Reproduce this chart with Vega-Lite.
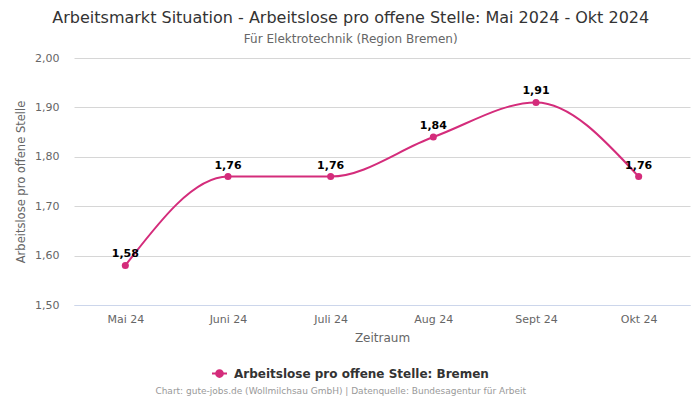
{
  "$schema": "https://vega.github.io/schema/vega-lite/v6.json",
  "padding": {"left": 15, "top": 10, "right": 10, "bottom": 0},
  "background": "#ffffff",
  "config": {
    "font": "DejaVu Sans",
    "locale": {"number": {"decimal": ",", "thousands": ".", "grouping": [3], "currency": ["", " €"]}},
    "view": {"stroke": null}
  },
  "title": {
    "text": "Arbeitsmarkt Situation - Arbeitslose pro offene Stelle: Mai 2024 - Okt 2024",
    "subtitle": "Für Elektrotechnik (Region Bremen)",
    "fontSize": 16,
    "fontWeight": "normal",
    "color": "#333333",
    "subtitleFontSize": 12,
    "subtitleColor": "#666666",
    "subtitlePadding": 8,
    "anchor": "middle",
    "frame": "bounds",
    "offset": 7,
    "dx": -2
  },
  "vconcat": [
    {
      "width": 616,
      "height": 247,
      "title": {
        "text": "Chart: gute-jobs.de (Wollmilchsau GmbH) | Datenquelle: Bundesagentur für Arbeit",
        "orient": "bottom",
        "anchor": "middle",
        "frame": "bounds",
        "fontSize": 9,
        "fontWeight": "normal",
        "color": "#999999",
        "offset": 44,
        "dx": -12
      },
      "data": {
        "values": [
          {"monat": "Mai 24", "wert": 1.58, "serie": "Arbeitslose pro offene Stelle: Bremen"},
          {"monat": "Juni 24", "wert": 1.76, "serie": "Arbeitslose pro offene Stelle: Bremen"},
          {"monat": "Juli 24", "wert": 1.76, "serie": "Arbeitslose pro offene Stelle: Bremen"},
          {"monat": "Aug 24", "wert": 1.84, "serie": "Arbeitslose pro offene Stelle: Bremen"},
          {"monat": "Sept 24", "wert": 1.91, "serie": "Arbeitslose pro offene Stelle: Bremen"},
          {"monat": "Okt 24", "wert": 1.76, "serie": "Arbeitslose pro offene Stelle: Bremen"}
        ]
      },
      "encoding": {
        "x": {
          "field": "monat",
          "type": "ordinal",
          "sort": null,
          "scale": {"type": "point", "padding": 0.5},
          "axis": {
            "title": "Zeitraum",
            "titleFontSize": 12,
            "titleFontWeight": "normal",
            "titleColor": "#666666",
            "titlePadding": 8,
            "labelAngle": 0,
            "labelFontSize": 11,
            "labelColor": "#666666",
            "labelPadding": 8,
            "ticks": false,
            "tickSize": 0,
            "grid": false,
            "domain": true,
            "domainColor": "#ccd6eb",
            "domainWidth": 1
          }
        },
        "y": {
          "field": "wert",
          "type": "quantitative",
          "scale": {"domain": [1.5, 2.0], "nice": false, "zero": false},
          "axis": {
            "title": "Arbeitslose pro offene Stelle",
            "titleFontSize": 11.5,
            "titleFontWeight": "normal",
            "titleColor": "#666666",
            "titlePadding": 8,
            "values": [1.5, 1.6, 1.7, 1.8, 1.9, 2.0],
            "format": ".2f",
            "labelFontSize": 11,
            "labelColor": "#666666",
            "labelPadding": 15,
            "ticks": false,
            "tickSize": 0,
            "domain": false,
            "grid": true,
            "gridColor": "#d6d6d6",
            "gridWidth": 1
          }
        }
      },
      "layer": [
        {
          "mark": {"type": "line", "interpolate": "monotone", "strokeWidth": 2},
          "encoding": {
            "color": {
              "field": "serie",
              "type": "nominal",
              "scale": {"range": ["#d42c7b"]},
              "legend": {
                "title": null,
                "orient": "none",
                "legendX": 137,
                "legendY": 307,
                "padding": 0,
                "labelFontSize": 12,
                "labelFontWeight": "bold",
                "labelColor": "#333333",
                "labelOffset": 6,
                "labelLimit": 0,
                "symbolType": "M-1,0L1,0M-0.45,0A0.45,0.45 0 1,1 0.45,0A0.45,0.45 0 1,1 -0.45,0Z",
                "symbolSize": 225,
                "symbolStrokeWidth": 2,
                "symbolFillColor": "#d42c7b",
                "symbolStrokeColor": "#d42c7b"
              }
            }
          }
        },
        {
          "mark": {"type": "point", "filled": true, "size": 50, "opacity": 1},
          "encoding": {
            "color": {"field": "serie", "type": "nominal", "scale": {"range": ["#d42c7b"]}}
          }
        },
        {
          "mark": {"type": "text", "fontSize": 11, "fontWeight": "bold", "color": "#000000", "baseline": "bottom", "dy": -6},
          "encoding": {
            "text": {"field": "wert", "type": "quantitative", "format": ".2f"}
          }
        }
      ]
    }
  ]
}
